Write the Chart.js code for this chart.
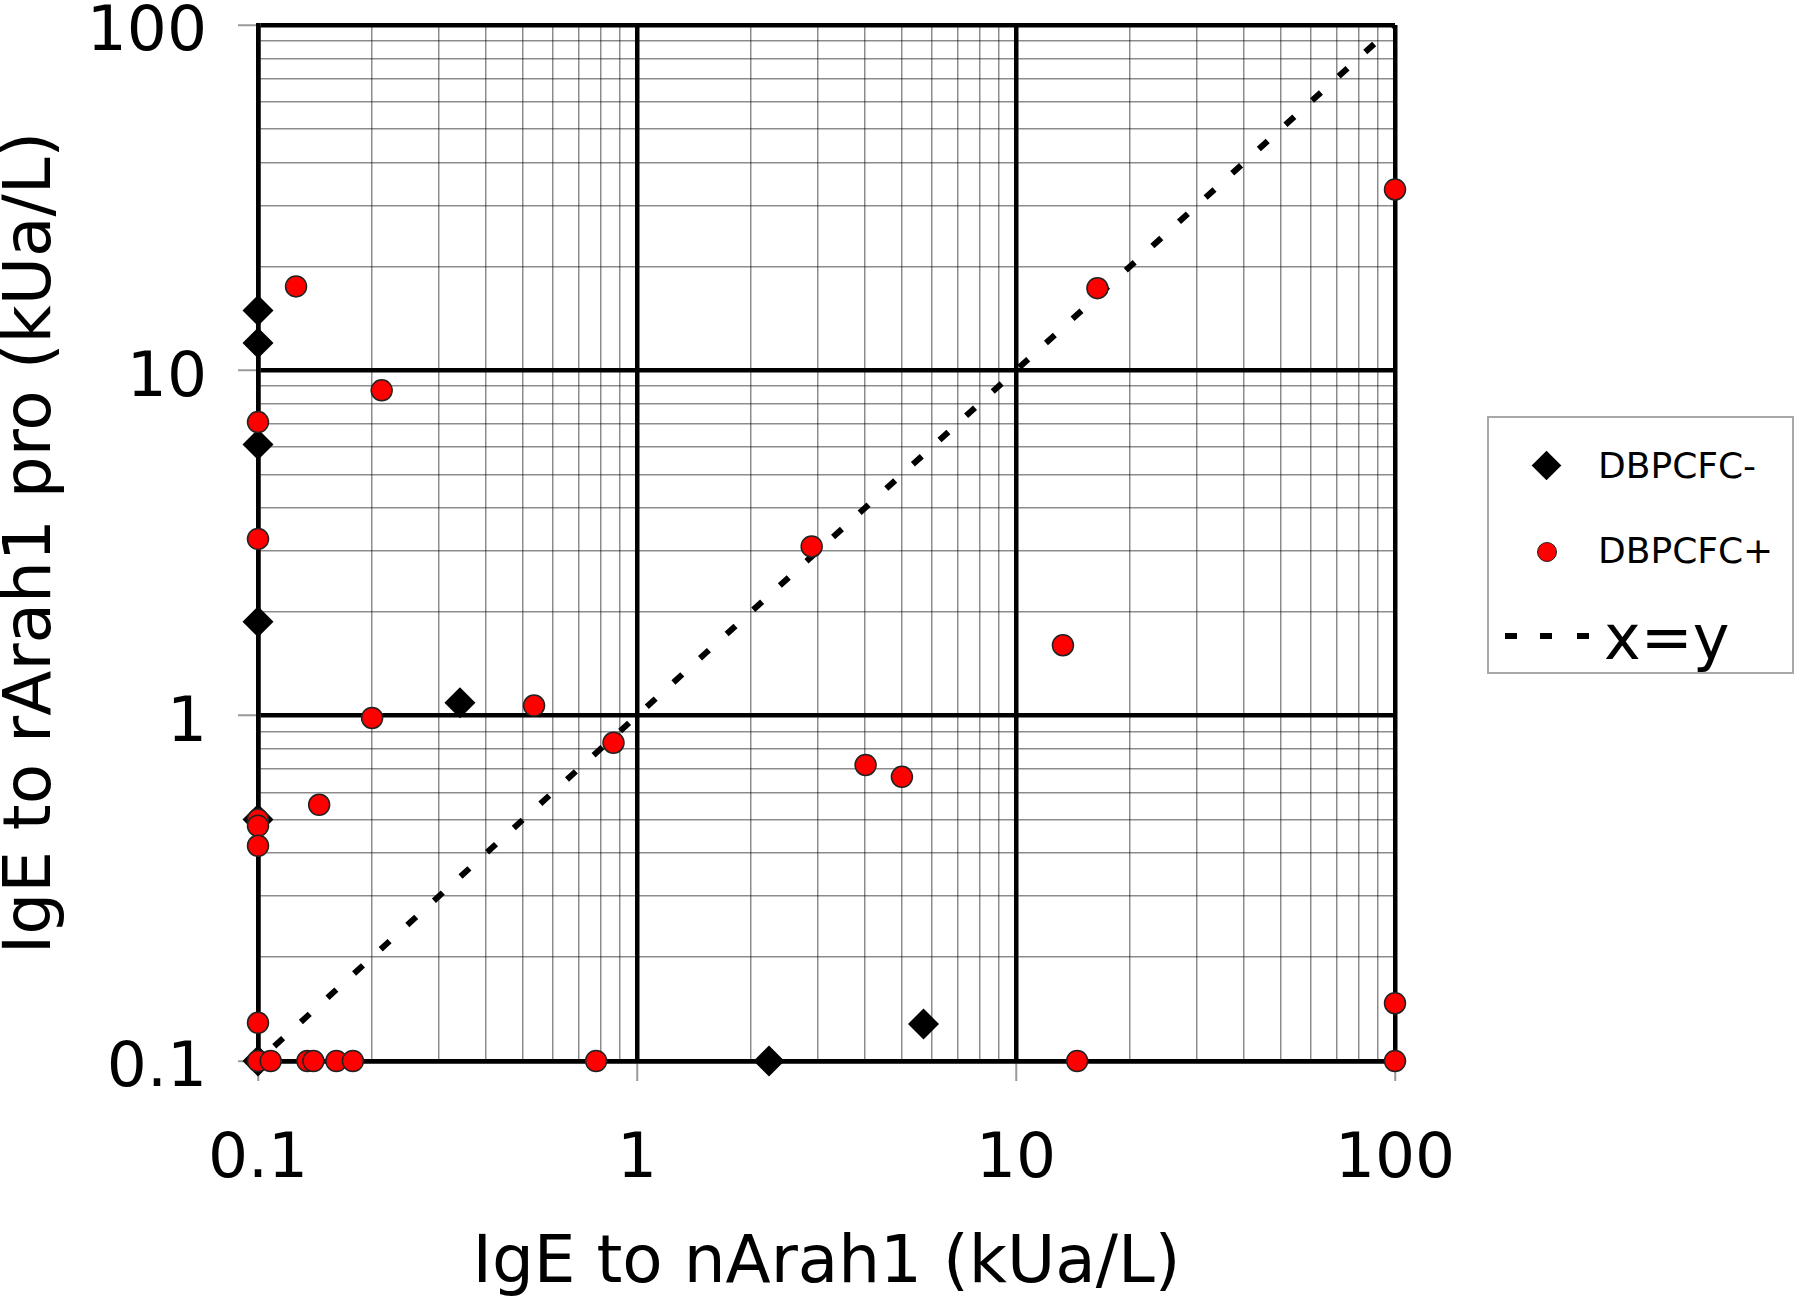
<!DOCTYPE html>
<html>
<head>
<meta charset="utf-8">
<script src="https://cdn.jsdelivr.net/npm/chart.js@4.4.1/dist/chart.umd.min.js"></script>
<style>
  html, body { margin: 0; padding: 0; background: #fff; }
  #wrap { position: relative; width: 1800px; height: 1300px; font-family: "DejaVu Sans", Verdana, sans-serif; color: #000; }
  #chart { position: absolute; left: 0; top: 0; }
  .legend { position: absolute; left: 1487px; top: 416px; width: 307px; height: 258px;
            border: 2px solid #a8a8a8; box-sizing: border-box; background: #fff; }
  .legend div { position: absolute; }
  .lg-diamond { width: 21px; height: 21px; background: #000; transform: rotate(45deg); left: 47px; top: 37px; }
  .lg-circle { width: 20px; height: 20px; box-sizing: border-box; border-radius: 50%;
               background: #ff0000; border: 1.5px solid #222; left: 48px; top: 124px; }
  .lg-dash { width: 12px; height: 6px; background: #000; top: 215px; }
  .lg-text { font-size: 36px; line-height: 36px; white-space: nowrap; }
  .lg-big { font-size: 62px; line-height: 62px; white-space: nowrap; }
</style>
</head>
<body>
<div id="wrap">
  <canvas id="chart" width="1800" height="1300"></canvas>
  <div class="legend">
    <div class="lg-diamond"></div>
    <div class="lg-text" style="left:109px; top:30px;">DBPCFC-</div>
    <div class="lg-circle"></div>
    <div class="lg-text" style="left:109px; top:115px;">DBPCFC+</div>
    <div class="lg-dash" style="left:16px;"></div>
    <div class="lg-dash" style="left:51px;"></div>
    <div class="lg-dash" style="left:88px;"></div>
    <div class="lg-big" style="left:115px; top:189px;">x=y</div>
  </div>
</div>
<script>
// ---- data (kUa/L) ----
// DBPCFC- (black diamonds)
const negX = [0.1, 0.1, 0.1, 0.1, 0.341, 0.1, 0.1, 2.23, 5.7];
const negY = [14.9, 12.0, 6.1, 1.87, 1.09, 0.5, 0.1, 0.1, 0.128];

// DBPCFC+ (red circles)
const posX = [0.126, 0.212, 0.1, 0.1, 0.2, 0.535, 0.867, 0.145, 0.1, 0.1, 0.1, 0.1, 0.1, 0.108,
              0.135, 0.14, 0.161, 0.178, 0.78, 2.89, 4.01, 5.0, 13.3, 16.4, 100, 100, 100, 14.5];
const posY = [17.5, 8.75, 7.08, 3.25, 0.985, 1.07, 0.835, 0.552, 0.5, 0.48, 0.42, 0.129, 0.1, 0.1,
              0.1, 0.1, 0.1, 0.1, 0.1, 3.09, 0.72, 0.665, 1.6, 17.3, 33.4, 0.147, 0.1, 0.1];

// x = y reference line
const lineX = [0.1, 100];
const lineY = [0.1, 100];

// axis ticks: labelled decades, grid at each multiple 1..9
const decades = [0.1, 1, 10, 100];
const minorSteps = [1, 2, 3, 4, 5, 6, 7, 8, 9];

const FONT = '"DejaVu Sans", Verdana, sans-serif';

const gridTicks = [];
decades.slice(0, -1).forEach(d => minorSteps.forEach(m => gridTicks.push(d * m)));
gridTicks.push(decades[decades.length - 1]);

function isDecade(v) {
  const l = Math.log10(v);
  return Math.abs(l - Math.round(l)) < 1e-6;
}

function toPoints(xs, ys) {
  return xs.map((x, i) => ({ x: x, y: ys[i] }));
}

/**
 * Shared options for both log axes
 */
function logAxis(titleText, titlePadding) {
  return {
    type: 'logarithmic',
    min: 0.1,
    max: 100,
    afterBuildTicks: scale => {
      scale.ticks = gridTicks.map(v => ({ value: v, major: isDecade(v) }));
    },
    ticks: {
      autoSkip: false,
      maxRotation: 0,
      color: '#000',
      font: { family: FONT, size: 63 },
      callback: v => isDecade(v) ? String(v) : ''
    },
    grid: {
      color: c => isDecade(c.tick.value) ? '#000' : 'rgba(0,0,0,0.45)',
      lineWidth: c => isDecade(c.tick.value) ? 4.5 : 1.5,
      drawTicks: true,
      tickLength: 20,
      tickWidth: 2,
      tickColor: c => isDecade(c.tick.value) ? '#999' : 'rgba(0,0,0,0)'
    },
    border: { display: true, color: '#000', width: 4.5 },
    title: {
      display: true,
      text: titleText,
      color: '#000',
      font: { family: FONT, size: 66, lineHeight: 1.0 },
      padding: titlePadding
    }
  };
}

const xAxis = logAxis('IgE to nArah1 (kUa/L)', { top: 0, bottom: 2 });
xAxis.ticks.padding = 42;
xAxis.afterFit = scale => { scale.height = 239; scale.paddingLeft = 0; scale.paddingRight = 0; };

const yAxis = logAxis('IgE to rArah1 pro (kUa/L)', { top: 0, bottom: 0 });
yAxis.ticks.padding = 31;
yAxis.ticks.labelOffset = 9;
yAxis.afterFit = scale => { scale.width = 258; scale.paddingTop = 0; scale.paddingBottom = 0; };

new Chart(document.getElementById('chart'), {
  type: 'scatter',
  data: {
    datasets: [
      {
        label: 'DBPCFC+',
        data: toPoints(posX, posY),
        pointStyle: 'circle',
        pointRadius: 10.5,
        backgroundColor: '#ff0000',
        borderColor: '#222',
        borderWidth: 1.5,
        order: 1,
        clip: false
      },
      {
        label: 'DBPCFC-',
        data: toPoints(negX, negY),
        pointStyle: 'rectRot',
        pointRadius: 15.5,
        backgroundColor: '#000',
        borderColor: '#000',
        borderWidth: 0,
        order: 2,
        clip: false
      },
      {
        label: 'x=y',
        data: toPoints(lineX, lineY),
        showLine: true,
        borderColor: '#000',
        borderWidth: 6,
        borderDash: [12, 24],
        borderDashOffset: 14,
        pointRadius: 0,
        fill: false,
        order: 3
      }
    ]
  },
  options: {
    responsive: false,
    animation: false,
    events: [],
    layout: { padding: { left: 0, right: 405, top: 25, bottom: 0 } },
    plugins: {
      legend: { display: false },
      tooltip: { enabled: false }
    },
    scales: { x: xAxis, y: yAxis }
  }
});
</script>
</body>
</html>
